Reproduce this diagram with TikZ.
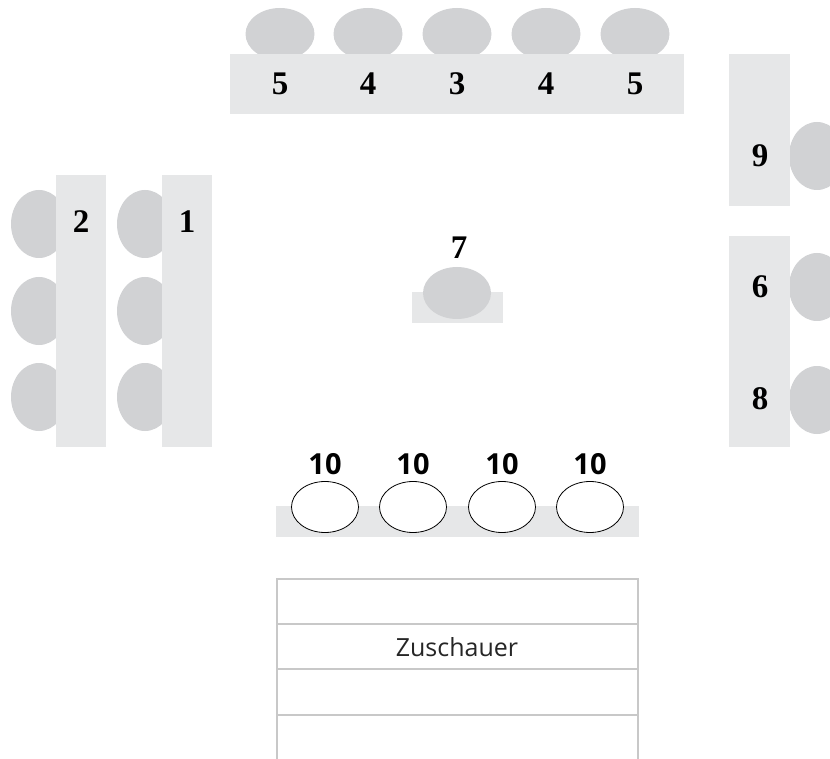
\documentclass[tikz,border=0pt]{standalone}
\usepackage{fontspec}
\setmainfont{Liberation Serif}
\newfontfamily\labsans{Open Sans}
\newfontfamily\numsans{Open Sans}
\usetikzlibrary{shapes.geometric}
\definecolor{chairgray}{HTML}{D1D2D4}
\definecolor{tablegray}{HTML}{E6E7E8}
\definecolor{rowgray}{HTML}{C8C8C8}
\begin{document}
\begin{tikzpicture}[x=1pt,y=-1pt,
  tbl/.style={fill=tablegray,draw=none},
  hchair/.style={ellipse,fill=chairgray,draw=none,minimum width=69pt,minimum height=52pt,inner sep=0pt},
  vchair/.style={ellipse,fill=chairgray,draw=none,minimum width=56pt,minimum height=68pt,inner sep=0pt},
  wchair/.style={ellipse,fill=white,draw=black,line width=0.8pt,minimum width=67pt,minimum height=51pt,inner sep=0pt},
  num/.style={font=\fontsize{33}{33}\selectfont\bfseries,inner sep=0pt},
  tnum/.style={font=\numsans\bfseries\fontsize{29}{29}\selectfont,inner sep=0pt},
  row/.style={draw=rowgray,line width=2pt}]
\useasboundingbox (0,0) rectangle (830,759);
% top chairs
\foreach \i/\x in {a/280,b/368,c/457,d/546,e/635}
  \node[hchair] (top\i) at (\x,34) {};
\fill[tbl] (230,54) rectangle (684,114);
\foreach \i/\x/\t in {a/280/5,b/368/4,c/457/3,d/546/4,e/635/5}
  \node[num] (tn\i) at (\x,84) {\t};
% left chairs
\foreach \i/\y in {a/224,b/311,c/397} {
  \node[vchair] (lc\i) at (39,\y) {};
  \node[vchair] (mc\i) at (145,\y) {};
}
\fill[tbl] (56,175) rectangle (106,447);
\fill[tbl] (162,175) rectangle (212,447);
\node[num] (n2) at (81,222) {2};
\node[num] (n1) at (187,222) {1};
% right chairs
\node[vchair] (rc9) at (817,156) {};
\node[vchair] (rc6) at (817,287) {};
\node[vchair] (rc8) at (817,400) {};
\fill[tbl] (729,54) rectangle (790,206);
\fill[tbl] (729,236) rectangle (790,447);
\node[num] (n9) at (760,156) {9};
\node[num] (n6) at (760,287) {6};
\node[num] (n8) at (760,399) {8};
% table 7
\fill[tbl] (412,292) rectangle (503,323);
\node[hchair,minimum width=68pt,minimum height=52pt] (c7) at (457,293) {};
\node[num] (n7) at (459,248) {7};
% table 10
\fill[tbl] (276,506) rectangle (639,537);
\foreach \i/\x in {a/325,b/413,c/502,d/590} {
  \node[wchair] (w\i) at (\x,507) {};
  \node[tnum] (t\i) at (\x,464) {10};
}
% audience
\draw[row] (277,759) -- (277,579) -- (638,579) -- (638,759);
\draw[row] (277,624) -- (638,624);
\draw[row] (277,669) -- (638,669);
\draw[row] (277,715) -- (638,715);
\node[font=\labsans\fontsize{25}{25}\selectfont,inner sep=0pt,text=black!85] (zu) at (457,647) {Zuschauer};
\end{tikzpicture}
\end{document}
